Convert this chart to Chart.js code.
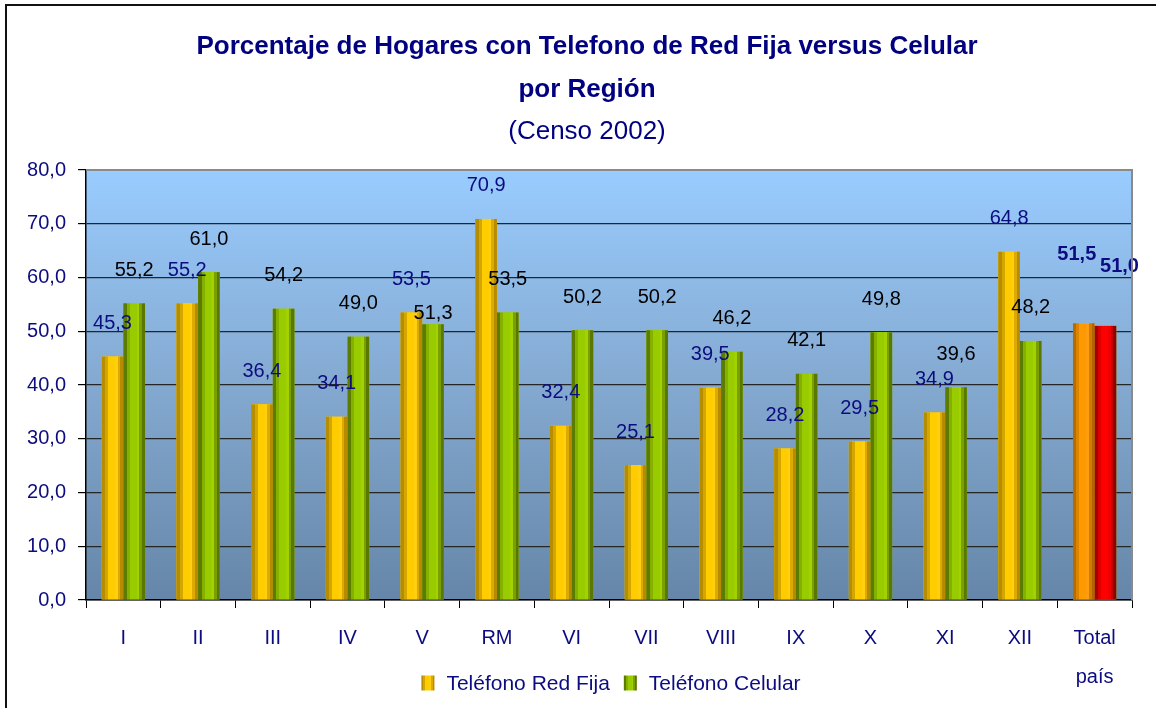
<!DOCTYPE html>
<html lang="es">
<head>
    <meta charset="UTF-8">
    <title>Porcentaje de Hogares con Telefono de Red Fija versus Celular</title>
    <script src="https://cdn.jsdelivr.net/npm/chart.js"></script>
    <style>
        html, body { margin: 0; padding: 0; background: #fff; overflow: hidden; }
        #marco {
            position: absolute; left: 5px; top: 4px; width: 1170px; height: 730px;
            border: 2px solid #111; pointer-events: none;
        }
        canvas { position: absolute; left: 0; top: 0; }
    </style>
</head>
<body>
    <canvas id="grafico" width="1156" height="708"></canvas>
    <div id="marco"></div>
    <script>
        // datos (Censo 2002)
        const regiones = ['I', 'II', 'III', 'IV', 'V', 'RM', 'VI', 'VII', 'VIII', 'IX', 'X', 'XI', 'XII', ['Total', 'país']];
        const redFija = [45.3, 55.2, 36.4, 34.1, 53.5, 70.9, 32.4, 25.1, 39.5, 28.2, 29.5, 34.9, 64.8, 51.5];
        const celular = [55.2, 61.0, 54.2, 49.0, 51.3, 53.5, 50.2, 50.2, 46.2, 42.1, 49.8, 39.6, 48.2, 51.0];
        const ejeY = [0, 10, 20, 30, 40, 50, 60, 70, 80];
        const titulo = ['Porcentaje de Hogares con Telefono de Red Fija versus Celular', 'por Región'];
        const subtitulo = '(Censo 2002)';

        const FUENTE = '"Liberation Sans Narrow", "Arial Narrow", "Liberation Sans", sans-serif';
        const AZUL = '#0c0c80';
        const coma = v => v.toFixed(1).replace('.', ',');

        // bandas de color tipo cilindro (oscuro - claro - oscuro)
        const bandas = {
            oro:     ['#b68c00', '#d4a600', '#ffcc00', '#ffcf10', '#dcaa00', '#b88a00'],
            verde:   ['#5b7c00', '#86b000', '#99cc00', '#a2d200', '#7aa000', '#5a7800'],
            naranja: ['#b86c00', '#dc8400', '#ff9900', '#ff9c10', '#d07c00', '#b06600'],
            rojo:    ['#a80000', '#dc0000', '#ff0000', '#f00000', '#c00000', '#900000']
        };
        const cortes = [0, 0.16, 0.3, 0.62, 0.74, 0.86, 1];

        function degradado(ctx, x0, ancho, colores) {
            const g = ctx.createLinearGradient(x0, 0, x0 + ancho, 0);
            colores.forEach((c, i) => {
                g.addColorStop(cortes[i], c);
                g.addColorStop(cortes[i + 1] - 0.001, c);
            });
            return g;
        }

        const ultimo = regiones.length - 1;

        const fondoPlugin = {
            id: 'fondo',
            beforeDraw(chart) {
                const { ctx, chartArea: a } = chart;
                const g = ctx.createLinearGradient(0, a.top, 0, a.bottom);
                g.addColorStop(0, '#99ccff');
                g.addColorStop(0.5, '#84a9d0');
                g.addColorStop(1, '#6586a8');
                ctx.save();
                ctx.fillStyle = g;
                ctx.fillRect(a.left, a.top, a.right - a.left, a.bottom - a.top);
                ctx.restore();
            },
            afterDraw(chart) {
                const { ctx, chartArea: a } = chart;
                ctx.save();
                ctx.strokeStyle = '#8a8a8a';
                ctx.lineWidth = 2;
                ctx.beginPath();
                ctx.moveTo(a.left, a.top);
                ctx.lineTo(a.right, a.top);
                ctx.lineTo(a.right, a.bottom);
                ctx.stroke();
                ctx.restore();
            }
        };

        // título centrado algo a la izquierda del área del gráfico, como en el original
        const tituloPlugin = {
            id: 'titulo',
            afterDraw(chart) {
                const ctx = chart.ctx;
                const xc = 587;
                ctx.save();
                ctx.fillStyle = '#000080';
                ctx.textAlign = 'center';
                ctx.textBaseline = 'middle';
                ctx.font = 'bold 26px ' + FUENTE;
                ctx.fillText(titulo[0], xc, 47);
                ctx.fillText(titulo[1], xc, 90);
                ctx.font = '26px ' + FUENTE;
                ctx.fillText(subtitulo, xc, 132);
                ctx.restore();
            }
        };

        const barrasPlugin = {
            id: 'barras',
            afterDatasetsDraw(chart) {
                const ctx = chart.ctx;
                ctx.save();
                chart.data.datasets.forEach((ds, d) => {
                    const meta = chart.getDatasetMeta(d);
                    meta.data.forEach((el, i) => {
                        const p = el.getProps(['x', 'y', 'base', 'width'], true);
                        const izq = p.x - p.width / 2;
                        let col = d === 0 ? bandas.oro : bandas.verde;
                        if (i === ultimo) col = d === 0 ? bandas.naranja : bandas.rojo;
                        ctx.fillStyle = degradado(ctx, izq, p.width, col);
                        ctx.fillRect(izq, p.y, p.width, p.base - p.y);
                    });
                });
                ctx.restore();
            }
        };

        // leyenda propia, debajo de las etiquetas del eje x
        const leyendaPlugin = {
            id: 'leyenda',
            afterDraw(chart) {
                const { ctx, chartArea: a } = chart;
                const cajaW = 13, cajaH = 15, hueco = 12, sep = 14, yc = 683;
                ctx.save();
                ctx.font = '21px ' + FUENTE;
                ctx.textBaseline = 'middle';
                ctx.textAlign = 'left';
                const items = chart.data.datasets.map((ds, i) => ({
                    texto: ds.label, ancho: ctx.measureText(ds.label).width,
                    col: i === 0 ? bandas.oro : bandas.verde
                }));
                const total = items.reduce((s, it) => s + cajaW + hueco + it.ancho, 0) + sep * (items.length - 1);
                let x = (a.left + a.right) / 2 - total / 2 + 2;
                items.forEach(it => {
                    ctx.fillStyle = degradado(ctx, x, cajaW, it.col);
                    ctx.fillRect(x, yc - cajaH / 2, cajaW, cajaH);
                    x += cajaW + hueco;
                    ctx.fillStyle = AZUL;
                    ctx.fillText(it.texto, x, yc + 1);
                    x += it.ancho + sep;
                });
                ctx.restore();
            }
        };

        const etiquetasPlugin = {
            id: 'etiquetas',
            afterDatasetsDraw(chart) {
                const ctx = chart.ctx;
                const m0 = chart.getDatasetMeta(0).data;
                const m1 = chart.getDatasetMeta(1).data;
                ctx.save();
                ctx.textAlign = 'center';
                ctx.textBaseline = 'middle';
                m0.forEach((b0, i) => {
                    const b1 = m1[i];
                    let x0 = b0.x, y0 = b0.y - 33;
                    let x1 = b1.x, y1 = b1.y - 33;
                    if (i === ultimo) {
                        x0 -= 7; y0 = b0.y - 69;
                        x1 += 14; y1 = b1.y - 59;
                        ctx.font = 'bold 20px ' + FUENTE;
                        ctx.fillStyle = AZUL;
                        ctx.fillText(coma(redFija[i]), x0, y0);
                        ctx.fillText(coma(celular[i]), x1, y1);
                        return;
                    }
                    // evitar que se tapen las etiquetas
                    if (Math.abs(y1 - y0) < 20 && Math.abs(x1 - x0) < 42) y1 = b1.y - 11;
                    ctx.font = '20px ' + FUENTE;
                    ctx.fillStyle = AZUL;
                    ctx.fillText(coma(redFija[i]), x0, y0);
                    ctx.fillStyle = '#000';
                    ctx.fillText(coma(celular[i]), x1, y1);
                });
                ctx.restore();
            }
        };

        new Chart(document.getElementById('grafico'), {
            type: 'bar',
            data: {
                labels: regiones,
                datasets: [
                    { label: 'Teléfono Red Fija', data: redFija, backgroundColor: '#ffcc00', categoryPercentage: 0.58, barPercentage: 1 },
                    { label: 'Teléfono Celular', data: celular, backgroundColor: '#99cc00', categoryPercentage: 0.58, barPercentage: 1 }
                ]
            },
            options: {
                responsive: false,
                animation: false,
                layout: { padding: { left: 0, right: 24, top: 170, bottom: 0 } },
                plugins: {
                    title: { display: false },
                    legend: { display: false },
                    tooltip: { enabled: false }
                },
                scales: {
                    x: {
                        grid: { drawOnChartArea: false, drawTicks: true, tickLength: 8, color: '#000' },
                        border: { color: '#000', width: 1.5 },
                        ticks: {
                            color: AZUL,
                            font: { family: FUENTE, size: 20, lineHeight: 1.95 },
                            padding: 11,
                            maxRotation: 0,
                            autoSkip: false
                        },
                        afterFit(scale) { scale.height = 108; }
                    },
                    y: {
                        min: 0,
                        max: 80,
                        afterBuildTicks(scale) { scale.ticks = ejeY.map(v => ({ value: v })); },
                        grid: {
                            color: ctx => (ctx.tick && ctx.tick.value === 80 ? '#8a8a8a' : '#262626'),
                            lineWidth: 1.2,
                            tickLength: 8,
                            tickColor: '#000'
                        },
                        border: { color: '#000', width: 1.5 },
                        ticks: {
                            color: AZUL,
                            font: { family: FUENTE, size: 20 },
                            padding: 12,
                            callback: v => coma(v)
                        },
                        afterFit(scale) { scale.width = 86; }
                    }
                }
            },
            plugins: [fondoPlugin, barrasPlugin, etiquetasPlugin, leyendaPlugin, tituloPlugin]
        });
    </script>
</body>
</html>
